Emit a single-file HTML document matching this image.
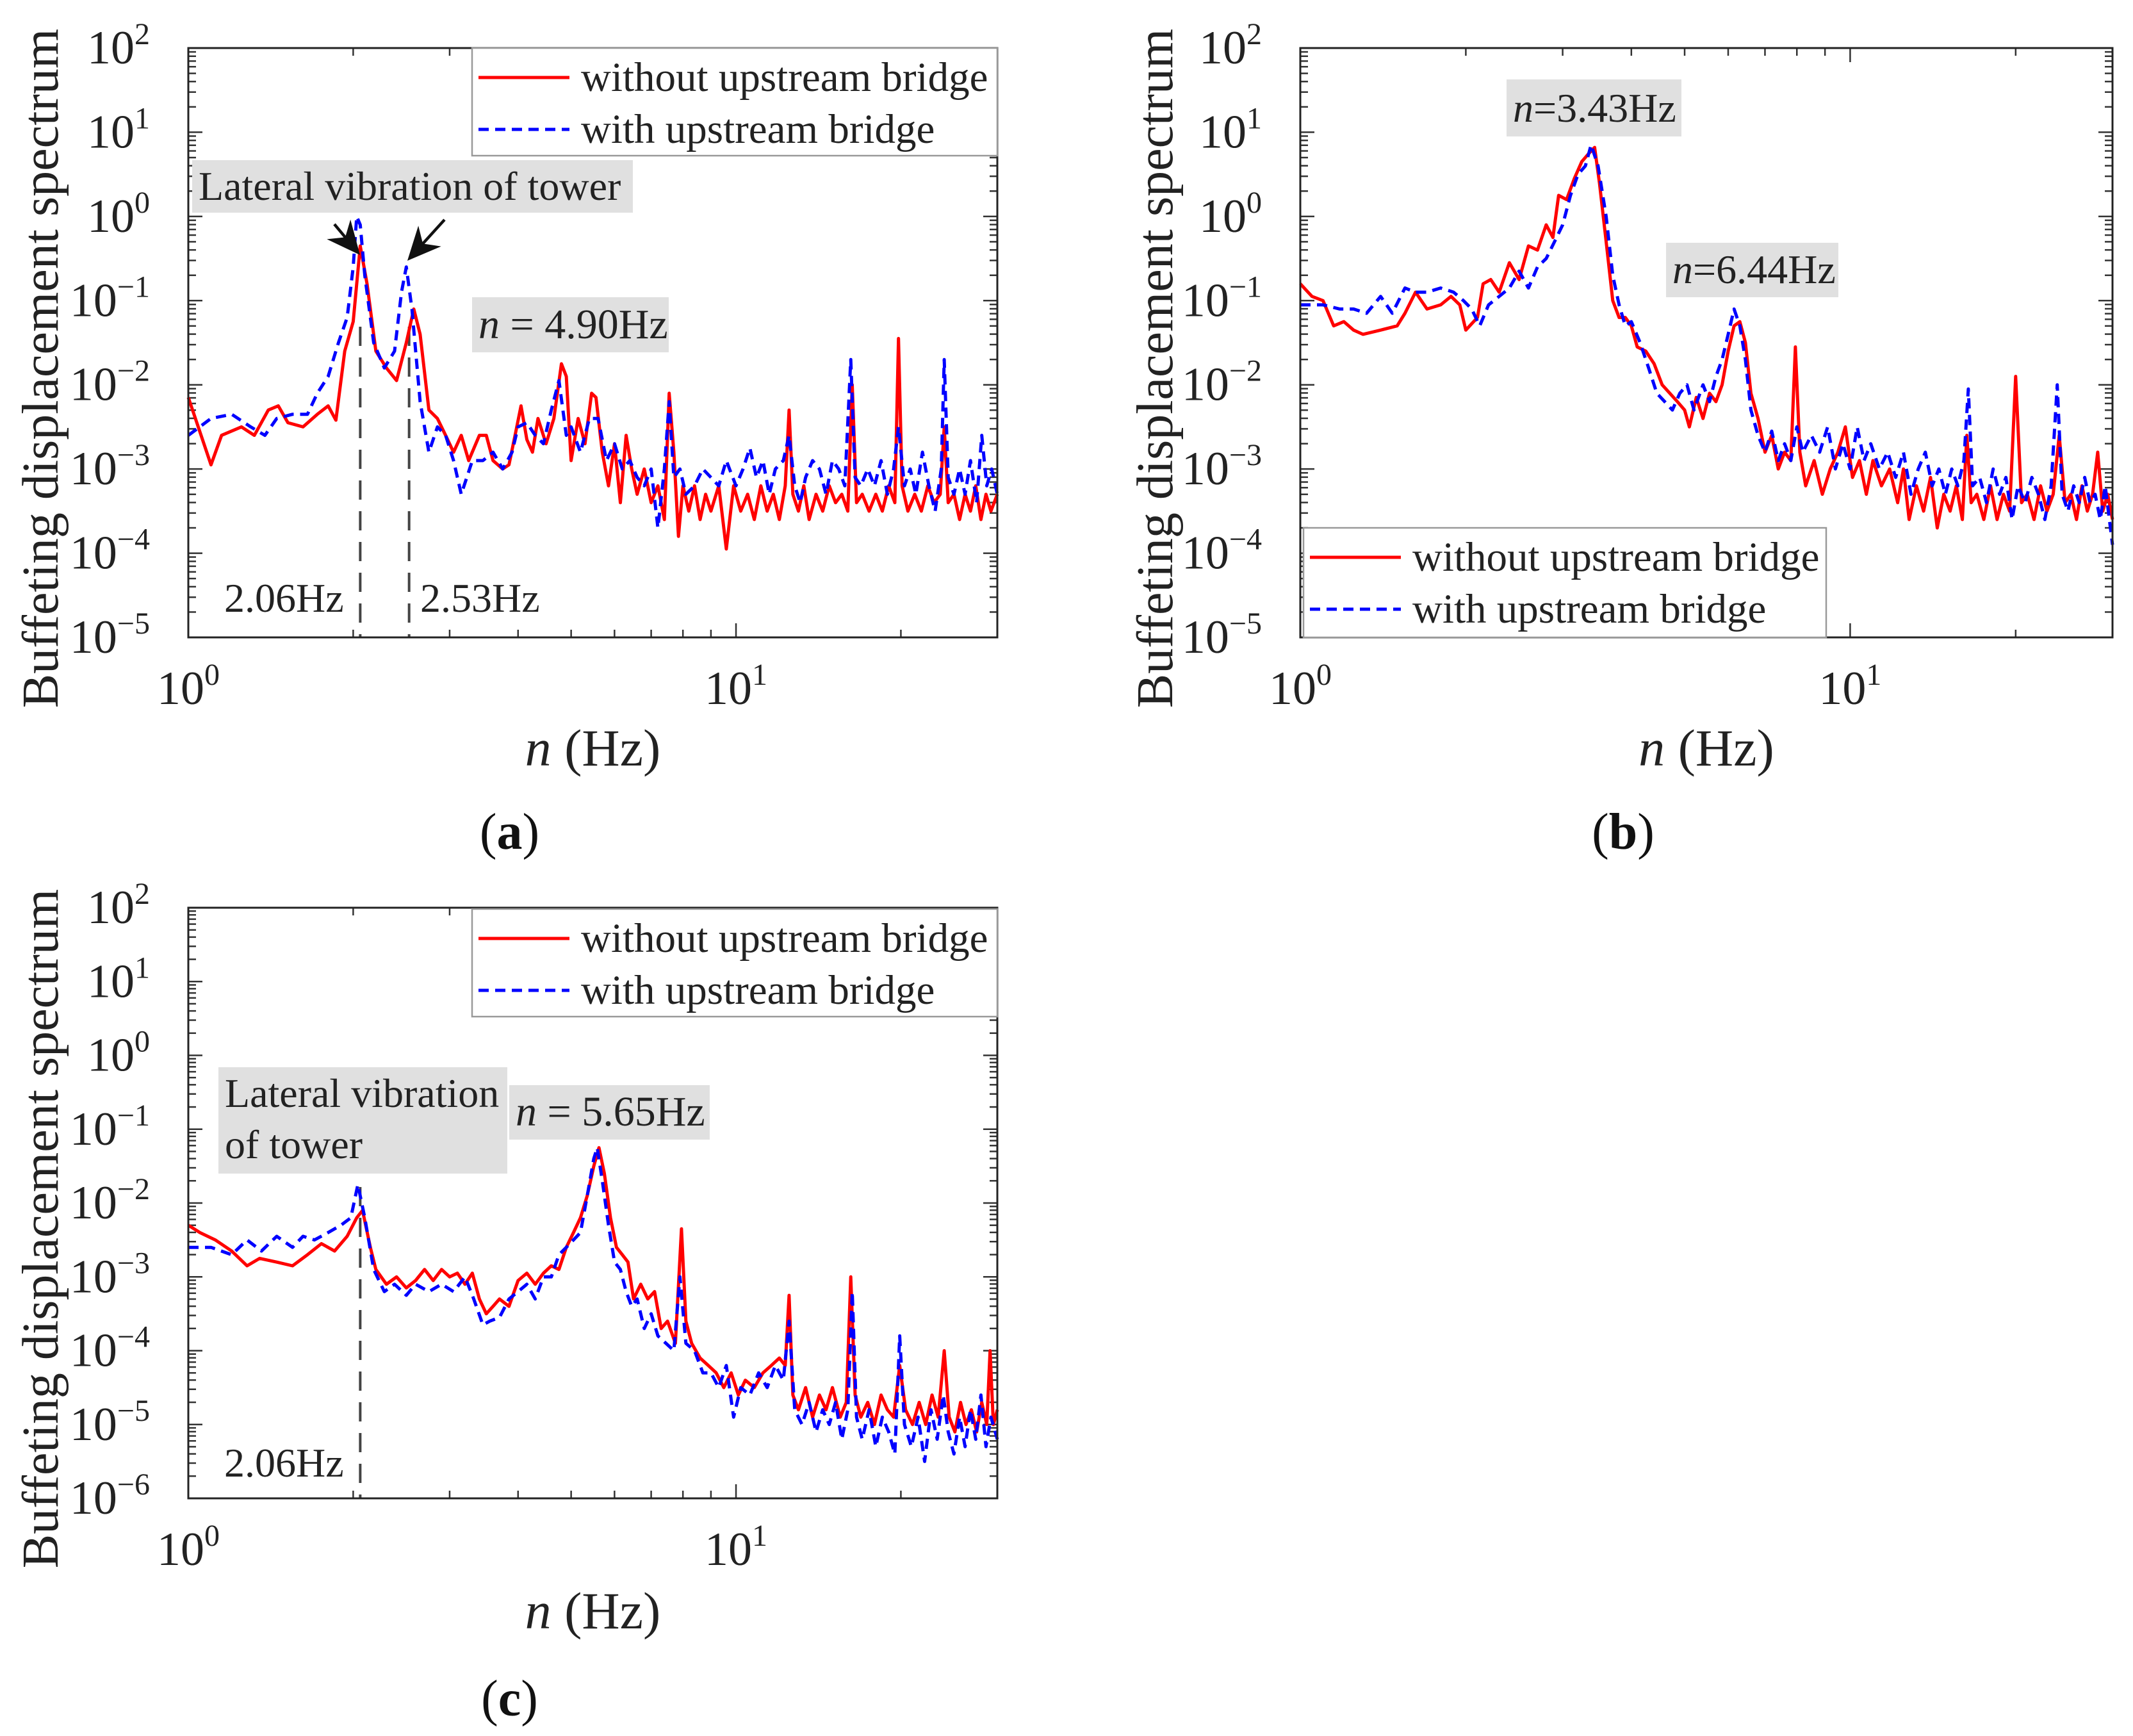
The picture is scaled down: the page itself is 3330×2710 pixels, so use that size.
<!DOCTYPE html>
<html><head><meta charset="utf-8"><style>
html,body{margin:0;padding:0;background:#fff;}
svg{display:block;font-family:"Liberation Serif","Times New Roman",serif;}
</style></head><body>
<svg id="fig" width="3330" height="2710" viewBox="0 0 3330 2710" xmlns="http://www.w3.org/2000/svg"></svg>
<script>
// ---- data (frequency in Hz, spectrum as log10 value) ----
const freqRedA=[1.0,1.1,1.15,1.25,1.32,1.4,1.46,1.52,1.62,1.72,1.8,1.86,1.93,2.0,2.06,2.12,2.2,2.3,2.4,2.5,2.58,2.65,2.75,2.85,2.95,3.05,3.15,3.25,3.4,3.5,3.6,3.75,3.85,3.95,4.05,4.15,4.25,4.35,4.5,4.65,4.8,4.9,5.0,5.15,5.3,5.45,5.55,5.7,5.85,6.0,6.15,6.3,6.45,6.6,6.8,7.0,7.2,7.4,7.55,7.7,7.85,8.0,8.2,8.4,8.6,8.8,9.0,9.3,9.6,9.9,10.2,10.5,10.8,11.1,11.4,11.7,12.0,12.3,12.5,12.7,13.0,13.3,13.6,14.0,14.4,14.8,15.2,15.6,16.0,16.3,16.6,17.0,17.5,18.0,18.5,19.0,19.5,19.8,20.1,20.6,21.2,21.8,22.4,23.0,23.6,24.0,24.4,25.0,25.6,26.2,26.8,27.4,28.0,28.6,29.2,30];
const logRedA=[-2.15,-2.95,-2.6,-2.5,-2.6,-2.3,-2.25,-2.45,-2.5,-2.35,-2.25,-2.42,-1.6,-1.25,-0.35,-0.8,-1.6,-1.8,-1.95,-1.5,-1.1,-1.4,-2.3,-2.4,-2.6,-2.8,-2.6,-2.9,-2.6,-2.6,-2.9,-3.0,-2.95,-2.6,-2.25,-2.65,-2.8,-2.4,-2.7,-2.4,-1.75,-1.9,-2.9,-2.4,-2.7,-2.1,-2.15,-2.8,-3.2,-2.7,-3.4,-2.6,-3.0,-3.3,-3.0,-3.4,-3.2,-3.6,-2.1,-2.8,-3.8,-3.2,-3.5,-3.2,-3.6,-3.3,-3.5,-3.2,-3.95,-3.2,-3.5,-3.3,-3.6,-3.2,-3.5,-3.3,-3.6,-3.2,-2.3,-3.3,-3.5,-3.2,-3.6,-3.3,-3.5,-3.2,-3.4,-3.3,-3.5,-2.0,-3.4,-3.3,-3.5,-3.3,-3.5,-3.2,-3.4,-1.45,-3.2,-3.5,-3.3,-3.5,-3.2,-3.4,-3.3,-2.5,-3.4,-3.3,-3.6,-3.3,-3.5,-3.2,-3.6,-3.3,-3.5,-3.3];
const freqBlueA=[1.0,1.1,1.2,1.3,1.38,1.45,1.55,1.65,1.72,1.8,1.88,1.95,2.0,2.03,2.06,2.1,2.18,2.28,2.38,2.45,2.5,2.56,2.65,2.75,2.85,2.95,3.05,3.15,3.3,3.45,3.6,3.75,3.9,4.0,4.15,4.3,4.45,4.6,4.75,4.9,5.0,5.2,5.4,5.6,5.8,6.0,6.2,6.4,6.6,6.8,7.0,7.2,7.4,7.55,7.7,7.9,8.1,8.4,8.7,9.0,9.3,9.6,10.0,10.3,10.6,10.9,11.2,11.5,11.8,12.2,12.5,12.8,13.1,13.4,13.8,14.2,14.6,15.0,15.4,15.8,16.2,16.5,16.9,17.4,17.9,18.4,18.9,19.4,19.8,20.3,20.8,21.3,21.9,22.5,23.1,23.7,24.0,24.4,25.0,25.6,26.2,26.8,27.5,28.1,28.7,29.3,30];
const logBlueA=[-2.6,-2.4,-2.35,-2.5,-2.6,-2.4,-2.35,-2.35,-2.1,-1.9,-1.5,-1.2,-0.6,0.0,-0.1,-0.7,-1.5,-1.8,-1.6,-0.9,-0.6,-1.1,-2.2,-2.8,-2.5,-2.6,-2.9,-3.3,-2.9,-2.9,-2.8,-3.0,-2.8,-2.5,-2.45,-2.6,-2.7,-2.3,-1.95,-2.6,-2.5,-2.8,-2.4,-2.4,-2.9,-2.7,-3.0,-2.9,-3.1,-3.2,-3.0,-3.7,-3.0,-2.2,-3.1,-3.0,-3.3,-3.2,-3.0,-3.1,-3.2,-2.9,-3.2,-3.0,-2.75,-3.1,-2.9,-3.3,-3.0,-2.9,-2.6,-3.2,-3.4,-3.1,-2.9,-3.0,-3.3,-2.9,-3.0,-3.2,-1.7,-3.1,-3.2,-3.0,-3.2,-2.9,-3.3,-3.0,-2.5,-3.2,-3.0,-3.3,-2.8,-3.2,-3.5,-3.0,-1.7,-3.1,-3.3,-3.0,-3.3,-2.9,-3.4,-2.6,-3.2,-3.0,-3.3];
const freqRedB=[1.0,1.05,1.1,1.15,1.2,1.25,1.3,1.4,1.5,1.55,1.62,1.7,1.8,1.88,1.95,2.0,2.1,2.15,2.22,2.3,2.4,2.5,2.6,2.7,2.8,2.88,2.95,3.05,3.15,3.25,3.35,3.43,3.5,3.6,3.7,3.8,3.9,4.0,4.1,4.25,4.4,4.55,4.7,4.85,5.0,5.1,5.25,5.4,5.55,5.7,5.85,6.0,6.15,6.3,6.45,6.6,6.8,7.0,7.2,7.4,7.6,7.8,7.95,8.1,8.3,8.6,8.9,9.2,9.5,9.8,10.1,10.4,10.7,11.0,11.4,11.8,12.2,12.5,12.8,13.2,13.6,14.0,14.4,14.8,15.2,15.6,16.0,16.3,16.6,17.0,17.5,18.0,18.5,19.0,19.5,20.0,20.5,21.0,21.6,22.2,22.8,23.4,24.0,24.6,25.2,25.8,26.4,27.0,27.6,28.2,28.8,29.4,30];
const logRedB=[-0.8,-0.95,-1.0,-1.3,-1.25,-1.35,-1.4,-1.35,-1.3,-1.15,-0.9,-1.1,-1.05,-0.95,-1.05,-1.35,-1.2,-0.8,-0.75,-0.9,-0.55,-0.75,-0.35,-0.4,-0.1,-0.25,0.25,0.2,0.45,0.65,0.75,0.82,0.4,-0.3,-1.0,-1.2,-1.2,-1.3,-1.55,-1.6,-1.75,-2.0,-2.1,-2.2,-2.3,-2.5,-2.15,-2.4,-2.1,-2.2,-2.0,-1.6,-1.3,-1.25,-1.5,-2.1,-2.4,-2.8,-2.6,-3.0,-2.8,-2.9,-1.55,-2.8,-3.2,-2.9,-3.3,-3.0,-2.8,-2.5,-3.1,-2.9,-3.3,-2.9,-3.2,-3.0,-3.4,-3.0,-3.6,-3.2,-3.5,-3.1,-3.7,-3.3,-3.5,-3.2,-3.6,-2.6,-3.4,-3.3,-3.6,-3.2,-3.6,-3.3,-3.5,-1.9,-3.4,-3.3,-3.6,-3.2,-3.5,-3.3,-2.6,-3.4,-3.3,-3.6,-3.2,-3.5,-3.3,-2.8,-3.5,-3.3,-3.6];
const freqBlueB=[1.0,1.1,1.18,1.25,1.32,1.4,1.47,1.55,1.62,1.7,1.8,1.9,1.98,2.05,2.12,2.2,2.3,2.4,2.5,2.6,2.7,2.8,2.9,3.0,3.1,3.2,3.3,3.38,3.48,3.6,3.7,3.8,3.9,4.0,4.15,4.3,4.45,4.6,4.75,4.9,5.05,5.2,5.4,5.55,5.7,5.85,6.0,6.15,6.3,6.45,6.6,6.8,7.0,7.2,7.4,7.6,7.8,8.0,8.2,8.5,8.8,9.1,9.4,9.7,10.0,10.3,10.6,10.9,11.3,11.7,12.1,12.5,12.9,13.3,13.7,14.1,14.5,14.9,15.3,15.7,16.1,16.4,16.7,17.2,17.7,18.2,18.7,19.2,19.7,20.2,20.8,21.4,22.0,22.6,23.2,23.8,24.3,24.9,25.5,26.1,26.7,27.3,27.9,28.5,29.1,30];
const logBlueB=[-1.05,-1.05,-1.1,-1.1,-1.15,-0.95,-1.15,-0.85,-0.9,-0.9,-0.85,-0.9,-1.0,-1.1,-1.3,-1.05,-0.95,-0.85,-0.65,-0.85,-0.6,-0.5,-0.3,-0.1,0.25,0.5,0.6,0.85,0.6,0.0,-0.7,-1.05,-1.3,-1.25,-1.5,-1.8,-2.1,-2.2,-2.3,-2.1,-2.0,-2.3,-2.0,-2.2,-1.9,-1.7,-1.4,-1.1,-1.3,-1.7,-2.3,-2.6,-2.8,-2.55,-2.9,-2.7,-2.9,-2.5,-2.8,-2.6,-2.8,-2.5,-3.0,-2.7,-3.0,-2.5,-2.9,-2.7,-3.0,-2.8,-3.1,-2.8,-3.3,-3.0,-2.8,-3.2,-3.0,-3.3,-3.0,-3.2,-2.9,-2.05,-3.2,-3.1,-3.4,-3.0,-3.3,-3.1,-3.6,-3.2,-3.4,-3.1,-3.3,-3.6,-3.2,-2.0,-3.3,-3.5,-3.2,-3.4,-3.1,-3.4,-3.3,-3.6,-3.2,-3.9];
const freqRedC=[1.0,1.05,1.12,1.2,1.28,1.35,1.45,1.55,1.65,1.75,1.85,1.95,2.03,2.08,2.15,2.2,2.3,2.4,2.5,2.6,2.7,2.8,2.9,3.0,3.1,3.2,3.3,3.4,3.5,3.6,3.7,3.85,4.0,4.15,4.3,4.45,4.6,4.75,4.9,5.05,5.2,5.35,5.5,5.62,5.75,5.9,6.05,6.2,6.35,6.5,6.7,6.9,7.1,7.3,7.5,7.75,7.95,8.1,8.3,8.6,8.9,9.2,9.5,9.8,10.1,10.4,10.8,11.2,11.6,12.0,12.3,12.5,12.7,13.0,13.4,13.8,14.2,14.6,15.0,15.5,15.9,16.2,16.5,16.9,17.4,17.9,18.4,18.9,19.4,19.9,20.4,21.0,21.6,22.2,22.8,23.4,24.0,24.5,25.1,25.7,26.3,26.9,27.5,28.1,28.7,29.1,29.5,30];
const logRedC=[-2.3,-2.4,-2.5,-2.65,-2.85,-2.75,-2.8,-2.85,-2.7,-2.55,-2.65,-2.45,-2.2,-2.1,-2.6,-2.9,-3.1,-3.0,-3.15,-3.05,-2.9,-3.05,-2.9,-3.0,-2.95,-3.1,-2.95,-3.3,-3.5,-3.4,-3.3,-3.4,-3.05,-2.95,-3.1,-2.95,-2.85,-2.9,-2.6,-2.4,-2.2,-1.9,-1.5,-1.25,-1.6,-2.2,-2.6,-2.7,-2.8,-3.3,-3.1,-3.3,-3.2,-3.7,-3.6,-3.9,-2.35,-3.6,-3.9,-4.1,-4.2,-4.3,-4.5,-4.3,-4.6,-4.4,-4.5,-4.3,-4.2,-4.1,-4.2,-3.25,-4.6,-4.8,-4.5,-4.9,-4.6,-4.8,-4.5,-4.9,-4.7,-3.0,-4.6,-4.9,-4.7,-5.0,-4.6,-4.8,-4.9,-4.2,-4.8,-5.0,-4.7,-5.0,-4.6,-4.9,-4.0,-4.9,-5.1,-4.7,-5.0,-4.8,-5.1,-4.7,-5.0,-4.0,-5.0,-4.8];
const freqBlueC=[1.0,1.1,1.2,1.28,1.36,1.45,1.55,1.62,1.7,1.8,1.9,1.98,2.04,2.1,2.18,2.28,2.38,2.5,2.6,2.75,2.9,3.05,3.2,3.32,3.45,3.55,3.7,3.85,4.0,4.15,4.3,4.45,4.6,4.75,4.9,5.05,5.2,5.35,5.5,5.58,5.7,5.85,6.0,6.15,6.3,6.45,6.6,6.8,7.0,7.2,7.45,7.7,7.9,8.1,8.4,8.7,9.0,9.3,9.6,9.9,10.2,10.6,11.0,11.4,11.8,12.2,12.5,12.8,13.2,13.6,14.0,14.4,14.8,15.2,15.6,16.0,16.3,16.6,17.0,17.5,18.0,18.5,19.0,19.5,19.9,20.3,20.9,21.5,22.1,22.7,23.3,23.9,24.4,25.0,25.6,26.2,26.8,27.4,28.0,28.6,29.2,30];
const logBlueC=[-2.6,-2.6,-2.7,-2.5,-2.65,-2.45,-2.6,-2.45,-2.5,-2.4,-2.3,-2.2,-1.75,-2.2,-2.9,-3.2,-3.1,-3.25,-3.1,-3.2,-3.1,-3.2,-3.0,-3.3,-3.65,-3.6,-3.55,-3.3,-3.2,-3.1,-3.3,-3.0,-3.0,-2.7,-2.6,-2.5,-2.4,-1.9,-1.4,-1.25,-1.7,-2.3,-2.8,-2.9,-3.2,-3.4,-3.3,-3.7,-3.5,-3.8,-3.9,-4.0,-3.0,-3.9,-4.0,-4.3,-4.3,-4.5,-4.2,-4.9,-4.5,-4.6,-4.3,-4.5,-4.2,-4.4,-3.6,-4.8,-5.0,-4.7,-5.1,-4.8,-5.0,-4.7,-5.2,-4.8,-3.2,-4.9,-5.2,-4.8,-5.3,-4.9,-5.1,-5.4,-3.8,-5.0,-5.3,-4.9,-5.5,-4.8,-5.2,-4.6,-5.1,-5.4,-4.9,-5.3,-4.8,-5.2,-4.6,-5.3,-4.9,-5.2];
const xTickLabels=["0","1"];
const yTickExpAB=[2,1,0,-1,-2,-3,-4,-5];
const yTickExpC=[2,1,0,-1,-2,-3,-4,-5,-6];

const NS="http://www.w3.org/2000/svg";
const svg=document.getElementById('fig');
function mk(tag,attrs,parent){const e=document.createElementNS(NS,tag);for(const k in attrs)e.setAttribute(k,attrs[k]);(parent||svg).appendChild(e);return e;}

function panel(cfg){
  const g=mk('g',{});
  
  
  const {L,R,T,B,ymin,ymax}=cfg;
  const xmin=0,xmax=Math.log10(30);
  const sx=f=>L+(Math.log10(f)-xmin)/(xmax-xmin)*(R-L);
  const sy=lg=>B-(lg-ymin)/(ymax-ymin)*(B-T);
  const tk=mk('g',{stroke:'#333','stroke-width':2.5},g);
  
  
  for(let d=0;d<2;d++)for(let m=1;m<=9;m++){const f=Math.pow(10,d)*m;if(f>30)break;const x=sx(f);const len=m===1?22:12;
    mk('line',{x1:x,y1:B,x2:x,y2:B-len},tk);mk('line',{x1:x,y1:T,x2:x,y2:T+len},tk);}
  for(let e=ymin;e<ymax;e++)for(let m=1;m<=9;m++){const y=sy(e+Math.log10(m));const len=m===1?22:12;
    mk('line',{x1:L,y1:y,x2:L+len,y2:y},tk);mk('line',{x1:R,y1:y,x2:R-len,y2:y},tk);}
  function series(fr,lg,color,dash,name){
    const pts=fr.map((f,i)=>sx(f).toFixed(1)+','+sy(Math.max(ymin,Math.min(ymax,lg[i]))).toFixed(1)).join(' ');
    const p=mk('polyline',{points:pts,fill:'none',stroke:color,'stroke-width':5,'stroke-linejoin':'round'},g);
    if(dash)p.setAttribute('stroke-dasharray',dash);
    
    
  }
  (cfg.vlines||[]).forEach(v=>{const l=mk('line',{x1:sx(v.f),x2:sx(v.f),y1:v.y0,y2:B,stroke:'#444','stroke-width':4,'stroke-dasharray':'30,18'},g);
    
    });
  series(cfg.fr,cfg.lr,'#ff0000',null,'series-without-upstream-bridge');
  series(cfg.fb,cfg.lb,'#0000ff','16,10','series-with-upstream-bridge');
  const fr=mk('rect',{x:L,y:T,width:R-L,height:B-T,fill:'none',stroke:'#222','stroke-width':3},g);
  
  
  cfg.yt.forEach(e=>{const t=mk('text',{x:L-60,y:sy(e)+24,'font-size':74,'text-anchor':'end',fill:'#222'},g);
    
    
    t.textContent='10';
    const s=mk('tspan',{dy:-30,'font-size':48},t);s.textContent=(e<0?'\u2212'+(-e):e);});
  xTickLabels.forEach((lab,i)=>{const x=sx(Math.pow(10,i));const t=mk('text',{x:x,y:B+104,'font-size':74,'text-anchor':'middle',fill:'#222'},g);
    
    
    t.textContent='10';const s=mk('tspan',{dy:-30,'font-size':48},t);s.textContent=lab;});
  const xl=mk('text',{x:(L+R)/2,y:cfg.xlabY,'font-size':82,'text-anchor':'middle',fill:'#222'},g);
  
  
  const it=mk('tspan',{'font-style':'italic'},xl);it.textContent='n';const r=mk('tspan',{},xl);r.textContent=' (Hz)';
  const yl=mk('text',{x:0,y:0,'font-size':80,'text-anchor':'middle',fill:'#222',transform:`translate(${cfg.ylabX},${(T+B)/2+40}) rotate(-90)`},g);
  
  
  yl.textContent='Buffeting displacement spectrum';
  const cap=mk('text',{x:(L+R)/2-130,y:cfg.capY,'font-size':80,'text-anchor':'middle',fill:'#111'},g);
  
  
  cap.textContent='(';const cb=mk('tspan',{'font-weight':'bold'},cap);cb.textContent=cfg.id;const c2=mk('tspan',{},cap);c2.textContent=')';
  const lg=cfg.leg;
  const lgG=mk('g',{},g);
  
  
  mk('rect',{x:lg.x,y:lg.y,width:lg.w,height:lg.h,fill:'#fff',stroke:'#999','stroke-width':2.5},lgG);
  [['without upstream bridge','#ff0000',null],['with upstream bridge','#0000ff','16,10']].forEach((e,i)=>{
    const yy=lg.y+46+i*81;
    const ln=mk('line',{x1:lg.x+10,x2:lg.x+152,y1:yy,y2:yy,stroke:e[1],'stroke-width':5},lgG);
    if(e[2])ln.setAttribute('stroke-dasharray',e[2]);
    const t=mk('text',{x:lg.x+170,y:yy+21,'font-size':65,fill:'#222'},lgG);
    
    
    t.textContent=e[0];});
  (cfg.ann||[]).forEach(a=>{const ag=mk('g',{},g);
    
    
    mk('rect',{x:a.x,y:a.y,width:a.w,height:a.h,fill:'#e0e0e0'},ag);
    a.lines.forEach((ln,i)=>{const t=mk('text',{x:a.x+10,y:a.y+a.base+i*80,'font-size':a.fs||64,fill:'#222'},ag);
      if(ln.n){const n=mk('tspan',{'font-style':'italic'},t);n.textContent='n';const rest=mk('tspan',{},t);rest.textContent=ln.n;}else t.textContent=ln;});});
  (cfg.texts||[]).forEach(a=>{const t=mk('text',{x:a.x,y:a.y,'font-size':64,fill:'#222'},g);
    
    
    t.textContent=a.t;});
  (cfg.arrows||[]).forEach(a=>{const dx=a.x2-a.x1,dy=a.y2-a.y1,l=Math.hypot(dx,dy),ux=dx/l,uy=dy/l;
    const ar=mk('g',{},g);
    
    
    mk('line',{x1:a.x1,y1:a.y1,x2:a.x2-ux*35,y2:a.y2-uy*35,stroke:'#111','stroke-width':4.5},ar);
    const bx=a.x2-ux*52,by=a.y2-uy*52;
    mk('polygon',{points:`${a.x2},${a.y2} ${bx-uy*24},${by+ux*24} ${a.x2-ux*36},${a.y2-uy*36} ${bx+uy*24},${by-ux*24}`,fill:'#111'},ar);});
}

panel({id:'a',L:294,R:1557,T:75,B:995,ymin:-5,ymax:2,yt:yTickExpAB,fr:freqRedA,lr:logRedA,fb:freqBlueA,lb:logBlueA,
  xlabY:1195,ylabX:90,capY:1325,leg:{x:737,y:75,w:820,h:168},
  vlines:[{f:2.06,y0:510},{f:2.53,y0:510}],
  ann:[{x:300,y:250,w:688,h:82,base:62,lines:['Lateral vibration of tower']},{x:737,y:464,w:307,h:86,base:64,fs:66,lines:[{n:' = 4.90Hz'}]}],
  texts:[{x:350,y:955,t:'2.06Hz'},{x:656,y:955,t:'2.53Hz'}],
  arrows:[{x1:522,y1:350,x2:562,y2:398},{x1:694,y1:343,x2:636,y2:407}]});
panel({id:'b',L:2030,R:3298,T:75,B:995,ymin:-5,ymax:2,yt:yTickExpAB,fr:freqRedB,lr:logRedB,fb:freqBlueB,lb:logBlueB,
  xlabY:1195,ylabX:1830,capY:1325,leg:{x:2035,y:824,w:816,h:171},
  ann:[{x:2352,y:124,w:273,h:89,base:66,fs:64,lines:[{n:'=3.43Hz'}]},{x:2601,y:379,w:269,h:85,base:63,fs:64,lines:[{n:'=6.44Hz'}]}]});
panel({id:'c',L:294,R:1557,T:1417,B:2339,ymin:-6,ymax:2,yt:yTickExpC,fr:freqRedC,lr:logRedC,fb:freqBlueC,lb:logBlueC,
  xlabY:2542,ylabX:90,capY:2678,leg:{x:737,y:1419,w:820,h:168},
  vlines:[{f:2.06,y0:1853}],
  ann:[{x:341,y:1666,w:451,h:166,base:62,lines:['Lateral vibration','of tower']},{x:795,y:1694,w:313,h:85,base:63,fs:66,lines:[{n:' = 5.65Hz'}]}],
  texts:[{x:350,y:2305,t:'2.06Hz'}]});
</script>
</body></html>
